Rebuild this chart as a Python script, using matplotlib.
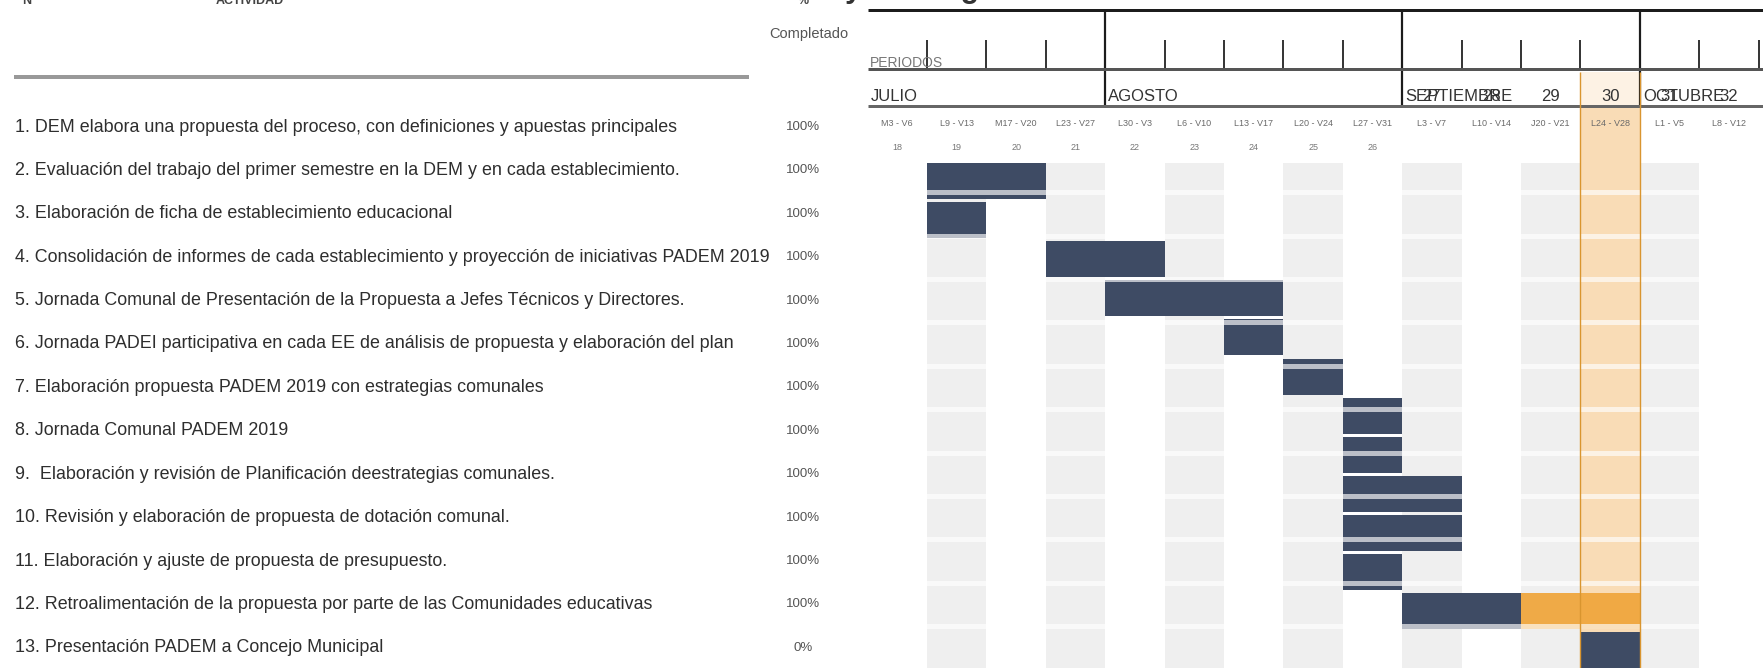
import matplotlib
matplotlib.use("Agg")
import matplotlib.pyplot as plt
from matplotlib.patches import Rectangle

plt.rcParams['font.family'] = ['Liberation Sans Narrow', 'Liberation Sans', 'DejaVu Sans']

## data
tasks = ['1. DEM elabora una propuesta del proceso, con definiciones y apuestas principales',
         '2. Evaluación del trabajo del primer semestre en la DEM y en cada establecimiento.',
         '3. Elaboración de ficha de establecimiento educacional',
         '4. Consolidación de informes de cada establecimiento y proyección de iniciativas PADEM 2019',
         '5. Jornada Comunal de Presentación de la Propuesta a Jefes Técnicos y Directores.',
         '6. Jornada PADEI participativa en cada EE de análisis de propuesta y elaboración del plan',
         '7. Elaboración propuesta PADEM 2019 con estrategias comunales',
         '8. Jornada Comunal PADEM 2019',
         '9.  Elaboración y revisión de Planificación deestrategias comunales.',
         '10. Revisión y elaboración de propuesta de dotación comunal.',
         '11. Elaboración y ajuste de propuesta de presupuesto.',
         '12. Retroalimentación de la propuesta por parte de las Comunidades educativas',
         '13. Presentación PADEM a Concejo Municipal']
completado = ['100%', '100%', '100%', '100%', '100%', '100%', '100%',
              '100%', '100%', '100%', '100%', '100%', '0%']
start_week = [1, 1, 3, 4, 6, 7, 8, 8, 8, 8, 8, 9, 12]
done_weeks = [2, 1, 2, 3, 1, 1, 1, 1, 2, 2, 1, 2, 1]
pending_weeks = [0, 0, 0, 0, 0, 0, 0, 0, 0, 0, 0, 2, 0]

week_labels = ['M3 - V6', 'L9 - V13', 'M17 - V20', 'L23 - V27', 'L30 - V3', 'L6 - V10',
               'L13 - V17', 'L20 - V24', 'L27 - V31', 'L3 - V7', 'L10 - V14', 'J20 - V21',
               'L24 - V28', 'L1 - V5', 'L8 - V12']
week_numbers = ['18', '19', '20', '21', '22', '23', '24', '25', '26',
                '27', '28', '29', '30', '31', '32']
months = ['JULIO', 'AGOSTO', 'SEPTIEMBRE', 'OCTUBRE']
month_start = [0, 4, 9, 13]
current_week = 12

## layout (pixels)
W, H = 1763, 668
G_LEFT, COL_W = 867.6, 59.4
ROW_Y0, ROW_H = 127, 43.4
BAR_Y0, BAR_P, BAR_H = 163, 39.1, 36
NAVY = '#3e4b64'
ORANGE = '#f0a73e'
PX = 0.72  # points per pixel

fig = plt.figure(figsize=(W / 100, H / 100), dpi=100)
ax = fig.add_axes([0, 0, 1, 1])
ax.set_xlim(0, W)
ax.set_ylim(H, 0)
ax.axis('off')

xmax = (W - G_LEFT) / COL_W
ag = fig.add_axes([G_LEFT / W, 0, 1 - G_LEFT / W, 1])
ag.set_xlim(0, xmax)
ag.set_ylim(H, 0)
ag.axis('off')
ag.patch.set_alpha(0)

# heading row, cut off at the top edge
ax.text(22, 1, 'N°', fontsize=9, fontweight='bold', color='#444', va='center')
ax.text(250, 1, 'ACTIVIDAD', fontsize=9, fontweight='bold', color='#444', va='center', ha='center')
ax.text(803, 1, '%', fontsize=9, fontweight='bold', color='#444', va='center', ha='center')
ax.text(845, -3, 'y Cronograma', fontsize=22, fontweight='bold', color='#333', va='baseline')

ax.text(848, 34, 'Completado', fontsize=10.5, color='#555', ha='right', va='center')
ax.hlines(77, 14, 749, color='#999999', lw=4 * PX)

# task list
renderer = fig.canvas.get_renderer()
txts = []
for i, (t, p) in enumerate(zip(tasks, completado)):
    y = ROW_Y0 + ROW_H * i
    txts.append(ax.text(15, y, t, fontsize=13, color='#2e2e2e', va='center'))
    ax.text(803, y, p, fontsize=9.5, color='#555', va='center', ha='center')
w0 = txts[0].get_window_extent(renderer).width
fs = 13 * 660 / w0
for t in txts:
    t.set_fontsize(fs)

# header of gantt
ag.hlines(10, 0, xmax, color='#1c1c1c', lw=3 * PX)
ag.vlines(month_start[1:], 10, 107, color='#1c1c1c', lw=2.2 * PX)
ticks = [c for c in range(1, 16) if c not in month_start]
ag.vlines(ticks, 40, 69, color='#222', lw=1.8 * PX)
ag.hlines(69, 0, xmax, color='#555', lw=3 * PX)
ag.hlines(106, 0, xmax, color='#666', lw=3 * PX)
ag.text(0.03, 70, 'PERIODOS', fontsize=10, color='#777', va='bottom')
for m, s in zip(months, month_start):
    ag.text(s + 0.05, 104, m, fontsize=12, color='#333', va='bottom')
for c, (wl, wn) in enumerate(zip(week_labels, week_numbers)):
    ag.text(c + 0.5, 123, wl, fontsize=6.5, color='#6a6a6a', ha='center', va='center')
    if c >= month_start[2]:
        ag.text(c + 0.5, 104, wn, fontsize=12, color='#333', ha='center', va='bottom')
    else:
        ag.text(c + 0.5, 148, wn, fontsize=6.5, color='#777', ha='center', va='center')

# background columns
for c in range(1, len(week_labels), 2):
    ag.add_patch(Rectangle((c, BAR_Y0), 1, H - BAR_Y0, fc='#efefef', ec='none', zorder=1))
ag.add_patch(Rectangle((current_week, 72), 1, 35, fc='#fdf2e4', ec='none', zorder=1))
ag.add_patch(Rectangle((current_week, 107), 1, H - 107, fc='#f9dcb6', ec='none', zorder=1))
ag.vlines([current_week, current_week + 1], 72, H, color='#d9952f', lw=1.4 * PX, zorder=5)

# bars
for i, (s, d, p) in enumerate(zip(start_week, done_weeks, pending_weeks)):
    y = BAR_Y0 + BAR_P * i
    ag.add_patch(Rectangle((s, y), d, BAR_H, fc=NAVY, ec='none', zorder=2))
    if p:
        ag.add_patch(Rectangle((s + d, y), p, BAR_H, fc=ORANGE, ec='none', alpha=0.95, zorder=2))

# row separators
seps = [ROW_Y0 + ROW_H * (k + 0.5) for k in range(1, len(tasks) - 1)]
ag.hlines(seps, 0, len(week_labels), color='white', lw=5 * PX, alpha=0.65, zorder=3)

fig.savefig('out.png', dpi=100)
